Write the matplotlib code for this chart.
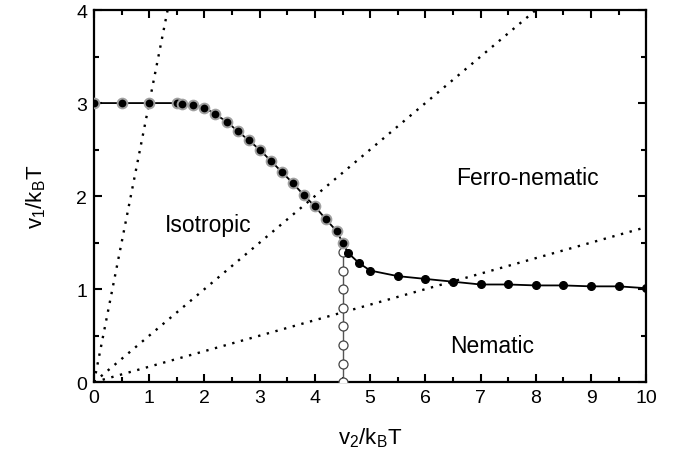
import numpy as np
import matplotlib
matplotlib.use("Agg")
import matplotlib.pyplot as plt
from matplotlib.ticker import MultipleLocator

plt.rcParams['font.family'] = ['Liberation Sans', 'DejaVu Sans']
plt.rcParams['mathtext.fontset'] = 'custom'
plt.rcParams['mathtext.rm'] = 'Liberation Sans'

# boundary (ringed markers, x <= 4.5)
x_iso = [0, 0.5, 1.0, 1.5, 1.6, 1.8, 2.0, 2.2, 2.4, 2.6, 2.8, 3.0, 3.2, 3.4, 3.6, 3.8, 4.0, 4.2, 4.4, 4.5]
y_iso = [3.0, 3.0, 3.0, 3.0, 2.99, 2.98, 2.95, 2.88, 2.80, 2.70, 2.60, 2.50, 2.38, 2.26, 2.14, 2.01, 1.89, 1.75, 1.62, 1.50]
# boundary (plain filled markers, x >= 4.5)
x_nem = [4.5, 4.6, 4.8, 5.0, 5.5, 6.0, 6.5, 7.0, 7.5, 8.0, 8.5, 9.0, 9.5, 10.0]
y_nem = [1.50, 1.39, 1.28, 1.20, 1.14, 1.11, 1.08, 1.05, 1.05, 1.04, 1.04, 1.03, 1.03, 1.01]
# vertical boundary (open markers)
x_vert = [4.5, 4.5, 4.5, 4.5, 4.5, 4.5, 4.5, 4.5, 4.5]
y_vert = [0.0, 0.2, 0.4, 0.6, 0.8, 1.0, 1.2, 1.4, 1.5]
# dotted reference lines y = k x
slopes = [3.0, 0.5, 1.0 / 6.0]
line_x = [0, 10]

fig = plt.figure(figsize=(6.81, 4.60), dpi=100)
ax = fig.add_axes([0.138, 0.167, 0.811, 0.809])

for k in slopes:
    ax.plot(line_x, [k * v for v in line_x], color='black', lw=1.7,
            linestyle=(0, (1, 2.8)), zorder=2)

ax.plot(x_vert, y_vert, color='#555555', lw=1.0, marker='o', ms=6.5,
        mfc='white', mec='#444444', mew=0.9, zorder=3)
ax.plot(x_nem, y_nem, color='black', lw=1.3, marker='o', ms=5.5,
        mfc='black', mec='black', zorder=4)
ax.plot(x_iso, y_iso, color='black', lw=1.3, marker='o', ms=7,
        mfc='black', mec='#a0a0a0', mew=1.4, zorder=5)

ax.set_xlim(0, 10)
ax.set_ylim(0, 4)
ax.xaxis.set_major_locator(MultipleLocator(1))
ax.xaxis.set_minor_locator(MultipleLocator(0.5))
ax.yaxis.set_major_locator(MultipleLocator(1))
ax.yaxis.set_minor_locator(MultipleLocator(0.5))
ax.tick_params(which='both', direction='in', top=True, right=True, width=1.5)
ax.tick_params(which='major', length=6, labelsize=14, pad=5)
ax.tick_params(which='minor', length=3.5)
for s in ax.spines.values():
    s.set_linewidth(1.6)

ax.set_xlabel(r'$\mathregular{v_2/k_BT}$', fontsize=16, labelpad=14)
ax.set_ylabel(r'$\mathregular{v_1/k_BT}$', fontsize=16, labelpad=20)

ax.text(2.07, 1.69, 'Isotropic', fontsize=16.5, ha='center', va='center')
ax.text(7.85, 2.2, 'Ferro-nematic', fontsize=16.5, ha='center', va='center')
ax.text(7.2, 0.39, 'Nematic', fontsize=16.5, ha='center', va='center')

fig.savefig('out.png', dpi=100)
